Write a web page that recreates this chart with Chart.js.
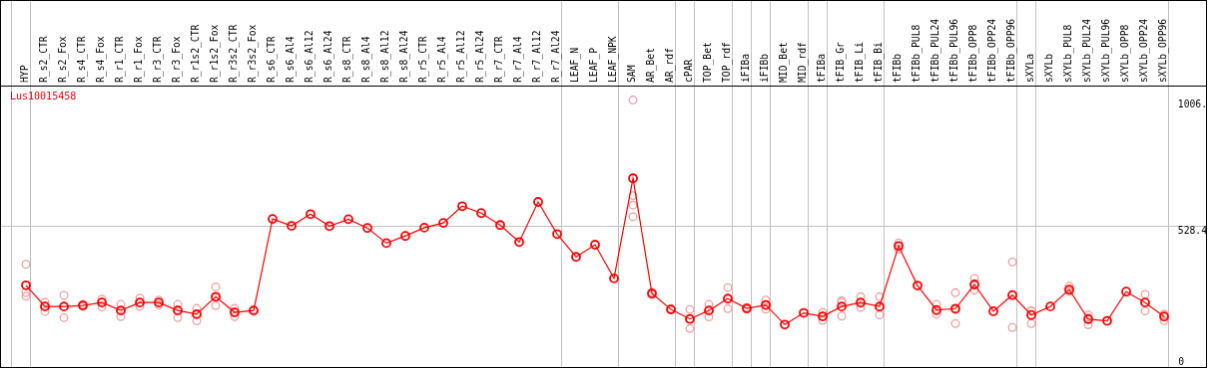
<!DOCTYPE html>
<html>
<head>
<meta charset="utf-8">
<script src="https://cdn.jsdelivr.net/npm/chart.js@4/dist/chart.umd.min.js"></script>
<style>
  html, body { margin: 0; padding: 0; background: #fff; }
  #chart { display: block; border: 1px solid #000; }
</style>
</head>
<body>
<canvas id="chart" width="1207" height="368"></canvas>
<script>
const geneName = 'Lus10015458';

const categories = [
  'HYP',
  'R_s2_CTR', 'R_s2_Fox', 'R_s4_CTR', 'R_s4_Fox', 'R_r1_CTR', 'R_r1_Fox', 'R_r3_CTR', 'R_r3_Fox',
  'R_r1s2_CTR', 'R_r1s2_Fox', 'R_r3s2_CTR', 'R_r3s2_Fox',
  'R_s6_CTR', 'R_s6_Al4', 'R_s6_Al12', 'R_s6_Al24', 'R_s8_CTR', 'R_s8_Al4', 'R_s8_Al12', 'R_s8_Al24',
  'R_r5_CTR', 'R_r5_Al4', 'R_r5_Al12', 'R_r5_Al24', 'R_r7_CTR', 'R_r7_Al4', 'R_r7_Al12', 'R_r7_Al24',
  'LEAF_N', 'LEAF_P', 'LEAF_NPK',
  'SAM', 'AR_Bet', 'AR_rdf',
  'cPAR',
  'TOP_Bet', 'TOP_rdf',
  'iFIBa',
  'iFIBb',
  'MID_Bet', 'MID_rdf',
  'tFIBa',
  'tFIB_Gr', 'tFIB_Li', 'tFIB_Bi',
  'tFIBb', 'tFIBb_PUL8', 'tFIBb_PUL24', 'tFIBb_PUL96', 'tFIBb_OPP8', 'tFIBb_OPP24', 'tFIBb_OPP96',
  'sXYLa',
  'sXYLb', 'sXYLb_PUL8', 'sXYLb_PUL24', 'sXYLb_PUL96', 'sXYLb_OPP8', 'sXYLb_OPP24', 'sXYLb_OPP96'
];

// number of samples in each tissue group (a grey line closes every group)
const groupSizes = [1, 28, 3, 3, 1, 2, 1, 1, 2, 1, 3, 7, 1, 7];

const means = [
  308,
  228, 228, 232, 243, 213, 243, 243, 213,
  199, 265, 206, 213,
  558, 532, 576, 531, 557, 524, 467, 494,
  525, 543, 606, 580, 535, 471, 622, 501,
  415, 461, 334,
  711, 277, 217,
  181,
  213, 258,
  221,
  234,
  160, 204,
  191,
  228, 243, 228,
  456, 307, 215, 220, 311, 210, 271,
  196,
  228, 292, 180, 174, 284, 243, 190
];

const replicates = [
  [387, 281, 267],
  [244, 230, 209], [270, 227, 186], [236, 232, 228], [256, 245, 226],
  [236, 212, 190], [260, 242, 228], [252, 243, 234], [236, 216, 186],
  [221, 201, 174], [302, 262, 231], [221, 207, 190], [216, 213, 210],
  [], [], [], [], [], [], [], [],
  [], [], [], [], [], [], [], [],
  [], [], [],
  [1006, 646, 610, 566], [282, 272], [220, 215],
  [217, 181, 145],
  [236, 213, 189], [299, 255, 220],
  [224, 218],
  [252, 232, 218],
  [], [],
  [206, 191, 176],
  [250, 244, 192], [265, 240, 224], [265, 223, 196],
  [468, 456, 444], [], [236, 211, 199], [280, 216, 164], [334, 310, 290], [], [396, 270, 149],
  [213, 211, 164],
  [], [305, 286, 285], [196, 186, 159], [], [], [274, 243, 211], [200, 195, 175]
];

const yTicksUpper = [528.4, 1006];
const yTicksLower = [0];
const yMax = 1060.5;

const RED = '#ff0000';
const PINK = '#f0a0a0';
const GRID = '#c0c0c0';
const CLEAR = 'rgba(0,0,0,0)';
const FONT = { family: '"DejaVu Sans Mono", monospace', size: 9.7 };

// grey separators sit just after the last sample of each group
const separators = [-1 + 0.24];
let end = -1;
groupSizes.forEach(n => { end += n; separators.push(end + 0.24); });

const meanPoints = means.map((v, i) => ({ x: i, y: v }));
const repPoints = replicates.flatMap((vals, i) => vals.map(v => ({ x: i, y: v })));

const fmtY = v => v === 1006 ? '1006.' : String(v);

const geneLabel = {
  id: 'geneLabel',
  afterDraw(chart) {
    const { ctx, chartArea } = chart;
    ctx.save();
    ctx.font = '10px "DejaVu Sans Mono", monospace';
    ctx.fillStyle = RED;
    ctx.textBaseline = 'middle';
    ctx.fillText(geneName, chartArea.left + 9, chartArea.top + 11);
    ctx.restore();
  }
};

const noPad = s => { s.paddingLeft = s.paddingRight = s.paddingTop = s.paddingBottom = 0; };

new Chart(document.getElementById('chart'), {
  type: 'scatter',
  data: {
    datasets: [
      {
        label: 'mean',
        data: meanPoints,
        showLine: true,
        borderColor: RED,
        borderWidth: 1.2,
        pointRadius: 4,
        pointBorderWidth: 1.8,
        pointBorderColor: RED,
        pointBackgroundColor: CLEAR
      },
      {
        label: 'replicates',
        data: repPoints,
        showLine: false,
        pointRadius: 3.8,
        pointBorderWidth: 1.3,
        pointBorderColor: PINK,
        pointBackgroundColor: CLEAR
      }
    ]
  },
  options: {
    responsive: false,
    animation: false,
    events: [],
    layout: { padding: 0, autoPadding: false },
    plugins: { legend: { display: false }, tooltip: { enabled: false } },
    scales: {
      x: {
        type: 'linear',
        position: 'top',
        min: -1.316,
        max: 62.21,
        afterBuildTicks: s => {
          const vals = categories.map((_, i) => i).concat(separators).sort((a, b) => a - b);
          s.ticks = vals.map(v => ({ value: v }));
        },
        afterFit: s => { s.height = 85; noPad(s); },
        ticks: {
          autoSkip: false,
          minRotation: 90,
          maxRotation: 90,
          padding: -82,
          labelOffset: 11,
          font: FONT,
          color: '#000',
          callback: v => Number.isInteger(v) ? categories[v] : ''
        },
        grid: {
          color: ctx => ctx.tick && Number.isInteger(ctx.tick.value) ? CLEAR : GRID,
          tickLength: 85,
          lineWidth: 1
        },
        border: { display: true, color: '#000', width: 1 }
      },
      y: {
        position: 'right',
        min: 0,
        max: yMax,
        afterBuildTicks: s => { s.ticks = yTicksUpper.map(v => ({ value: v })); },
        afterFit: s => { s.width = 0; noPad(s); },
        ticks: {
          mirror: true,
          crossAlign: 'far',
          align: 'start',
          padding: 1,
          font: FONT,
          color: '#000',
          callback: fmtY
        },
        grid: {
          color: ctx => ctx.tick && ctx.tick.value === 528.4 ? GRID : CLEAR,
          drawTicks: false
        },
        border: { display: false }
      },
      y2: {
        position: 'right',
        min: 0,
        max: yMax,
        afterBuildTicks: s => { s.ticks = yTicksLower.map(v => ({ value: v })); },
        afterFit: s => { s.width = 0; noPad(s); },
        ticks: {
          mirror: true,
          crossAlign: 'far',
          align: 'end',
          padding: -22,
          font: FONT,
          color: '#000',
          callback: fmtY
        },
        grid: { display: false },
        border: { display: false }
      }
    }
  },
  plugins: [geneLabel]
});
</script>
</body>
</html>
